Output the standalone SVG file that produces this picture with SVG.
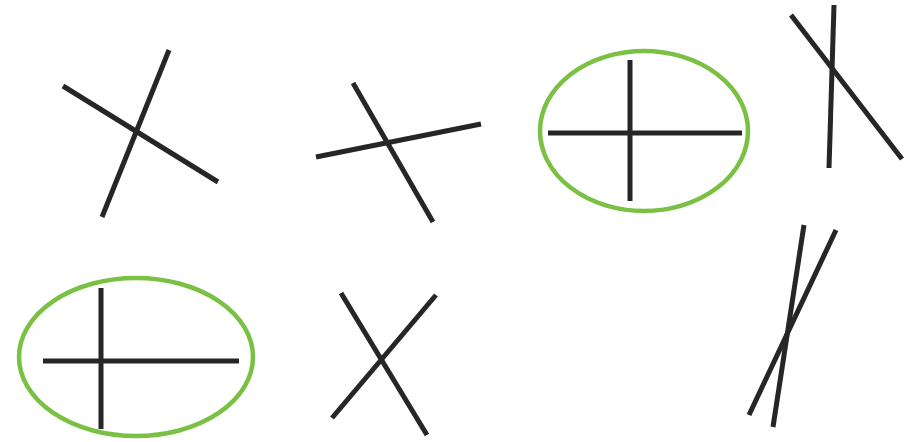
<svg xmlns="http://www.w3.org/2000/svg" width="916" height="442" viewBox="0 0 916 442">
<style>
.ln{stroke:#262626;stroke-width:5;fill:none;stroke-linecap:butt}
.ring{stroke:#7ac143;stroke-width:4.5;fill:none}
</style>
<rect width="916" height="442" fill="#ffffff"/>
<g id="pair1"><line class="ln" x1="63" y1="86" x2="218" y2="182"/><line class="ln" x1="169" y1="50" x2="102" y2="217"/></g>
<g id="pair2"><line class="ln" x1="353" y1="83" x2="433" y2="222"/><line class="ln" x1="316" y1="157" x2="481" y2="124"/></g>
<g id="pair3"><ellipse class="ring" cx="644" cy="131" rx="104" ry="80"/><line class="ln" x1="630" y1="60" x2="630" y2="201"/><line class="ln" x1="548" y1="133" x2="742" y2="133"/></g>
<g id="pair4"><line class="ln" x1="834" y1="5" x2="829" y2="168"/><line class="ln" x1="791" y1="15" x2="902" y2="159"/></g>
<g id="pair5"><ellipse class="ring" cx="136" cy="357" rx="117" ry="79"/><line class="ln" x1="101" y1="288" x2="101" y2="429"/><line class="ln" x1="43" y1="361" x2="239" y2="361"/></g>
<g id="pair6"><line class="ln" x1="341" y1="293" x2="427" y2="435"/><line class="ln" x1="436" y1="295" x2="332" y2="418"/></g>
<g id="pair7"><line class="ln" x1="804" y1="225" x2="773" y2="427"/><line class="ln" x1="836" y1="230" x2="749" y2="415"/></g>
</svg>
